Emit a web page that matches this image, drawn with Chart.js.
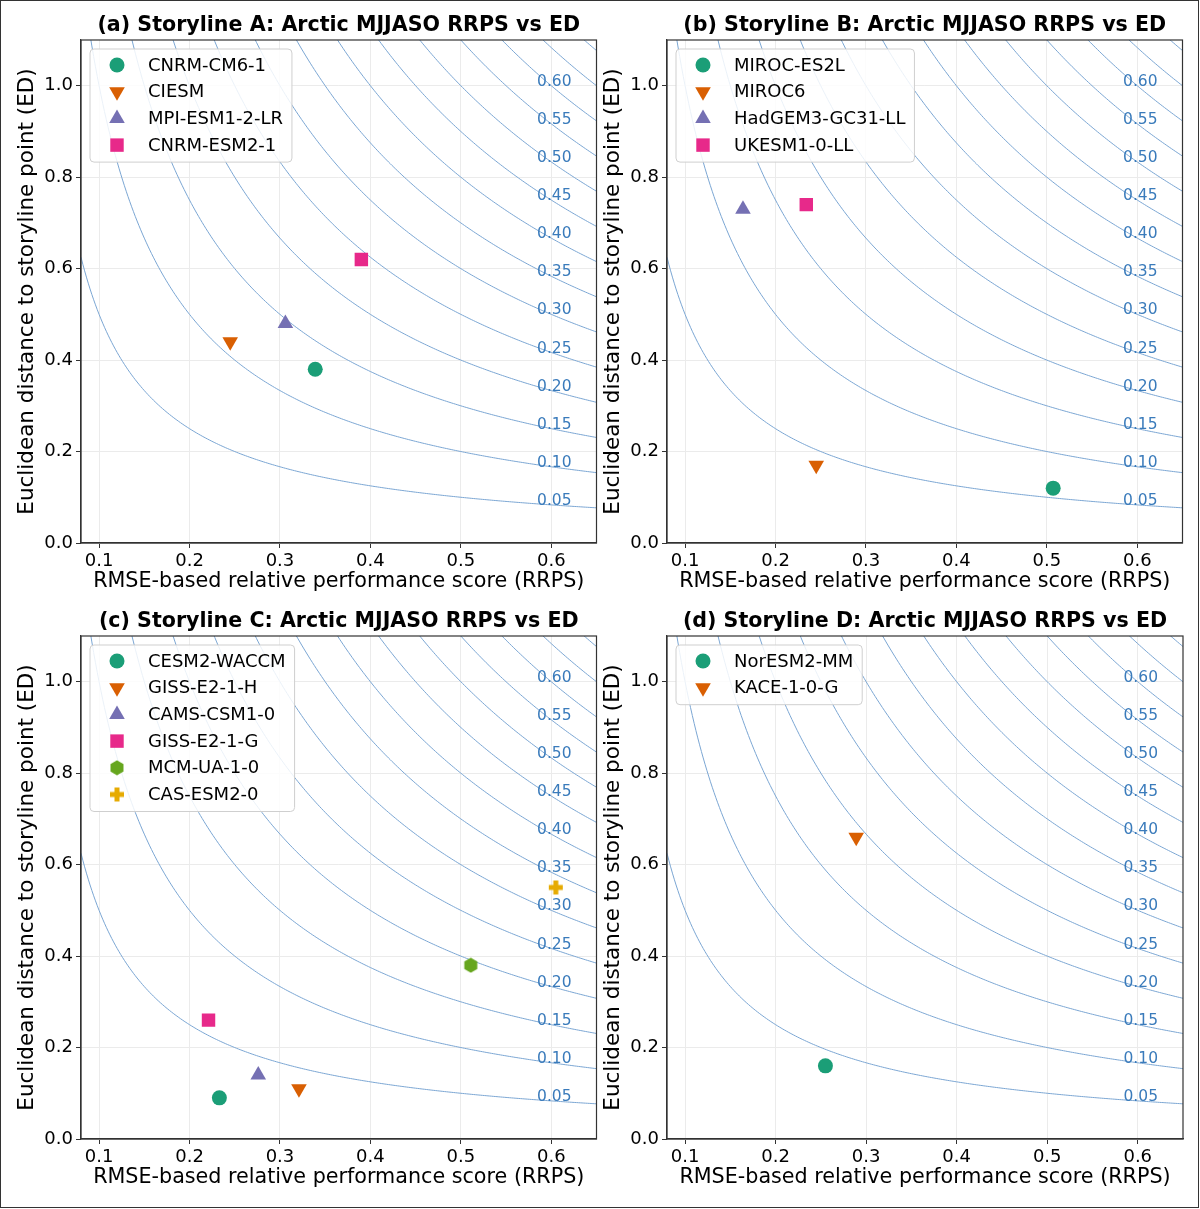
<!DOCTYPE html>
<html>
<head>
<meta charset="utf-8">
<script src="https://cdn.jsdelivr.net/npm/chart.js@4.4.0/dist/chart.umd.min.js"></script>
<style>
html, body { margin: 0; padding: 0; background: #fff; }
#fig { position: relative; width: 1200px; height: 1209px; overflow: hidden; background: #fff; }
#frame { position: absolute; left: 0; top: 0; width: 1197px; height: 1206px; border: 1px solid #333; }
.panel { position: absolute; width: 606px; height: 600px; }
</style>
</head>
<body>
<div id="fig">
  <div id="frame"></div>
  <div class="panel" style="left:0;top:0"><canvas id="chartA" width="606" height="600"></canvas></div>
  <div class="panel" style="left:586px;top:0"><canvas id="chartB" width="606" height="600"></canvas></div>
  <div class="panel" style="left:0;top:596px"><canvas id="chartC" width="606" height="600"></canvas></div>
  <div class="panel" style="left:586px;top:596px"><canvas id="chartD" width="606" height="600"></canvas></div>
</div>
<script>
// contour levels of RRPS * ED, and the ones that get a label
const contourLevels = [0.05, 0.10, 0.15, 0.20, 0.25, 0.30, 0.35, 0.40, 0.45, 0.50, 0.55, 0.60, 0.65, 0.70];
const labelLevels = [0.05, 0.10, 0.15, 0.20, 0.25, 0.30, 0.35, 0.40, 0.45, 0.50, 0.55, 0.60];
const labelAtX = 0.6;

const xTicks = [0.1, 0.2, 0.3, 0.4, 0.5, 0.6];
const yTicks = [0.0, 0.2, 0.4, 0.6, 0.8, 1.0];

// (a) Storyline A
const modelsA = ["CNRM-CM6-1", "CIESM", "MPI-ESM1-2-LR", "CNRM-ESM2-1"];
const rrpsA = [0.339, 0.245, 0.306, 0.390];
const edA = [0.38, 0.44, 0.48, 0.62];

// (b) Storyline B
const modelsB = ["MIROC-ES2L", "MIROC6", "HadGEM3-GC31-LL", "UKESM1-0-LL"];
const rrpsB = [0.507, 0.245, 0.164, 0.234];
const edB = [0.12, 0.17, 0.73, 0.74];

// (c) Storyline C
const modelsC = ["CESM2-WACCM", "GISS-E2-1-H", "CAMS-CSM1-0", "GISS-E2-1-G", "MCM-UA-1-0", "CAS-ESM2-0"];
const rrpsC = [0.233, 0.321, 0.276, 0.221, 0.511, 0.605];
const edC = [0.09, 0.11, 0.14, 0.26, 0.38, 0.55];

// (d) Storyline D
const modelsD = ["NorESM2-MM", "KACE-1-0-G"];
const rrpsD = [0.255, 0.289];
const edD = [0.16, 0.66];

const colors = ["#1b9e77", "#d95f02", "#7570b3", "#e7298a", "#66a61e", "#e6ab02"];

const FONT = "'DejaVu Sans', sans-serif";

// hexagon and filled plus markers as images
function makeHexagon(color) {
  const c = document.createElement("canvas");
  c.width = 16; c.height = 16;
  const g = c.getContext("2d");
  g.fillStyle = color;
  g.beginPath();
  for (let i = 0; i < 6; i++) {
    const a = Math.PI / 2 + i * Math.PI / 3;
    const px = 8 + 7.5 * Math.cos(a), py = 8 - 7.5 * Math.sin(a);
    if (i === 0) g.moveTo(px, py); else g.lineTo(px, py);
  }
  g.closePath();
  g.fill();
  return c;
}
function makePlus(color) {
  const c = document.createElement("canvas");
  c.width = 16; c.height = 16;
  const g = c.getContext("2d");
  g.fillStyle = color;
  g.fillRect(5.5, 1, 5, 14);
  g.fillRect(1, 5.5, 14, 5);
  return c;
}

const markers = [
  { style: "circle", radius: 7.5, rotation: 0 },
  { style: "triangle", radius: 9, rotation: 180 },
  { style: "triangle", radius: 9, rotation: 0 },
  { style: "rect", radius: 9.5, rotation: 0 },
  { style: makeHexagon(colors[4]), radius: 8, rotation: 0 },
  { style: makePlus(colors[5]), radius: 8, rotation: 0 }
];

function contourData(level) {
  const pts = [];
  for (let x = 0.08; x <= 0.6505; x += 0.002) {
    pts.push({ x: x, y: level / x });
  }
  return pts;
}

const panelPlugin = {
  id: "panelExtras",
  afterDatasetsDraw(chart, args, opts) {
    const ctx = chart.ctx;
    const xs = chart.scales.x, ys = chart.scales.y;
    ctx.save();
    // contour labels
    ctx.font = "15.5px " + FONT;
    ctx.fillStyle = "#3a7bbb";
    ctx.textAlign = "center";
    ctx.textBaseline = "middle";
    labelLevels.forEach(l => {
      ctx.fillText(l.toFixed(2), xs.getPixelForValue(labelAtX) + 3, ys.getPixelForValue(l / labelAtX) - 4);
    });
    ctx.restore();
  },
  afterDraw(chart, args, opts) {
    const ctx = chart.ctx;
    const area = chart.chartArea;
    ctx.save();
    // axes frame
    ctx.strokeStyle = "#333";
    ctx.lineWidth = 1.2;
    ctx.strokeRect(area.left, area.top, area.right - area.left, area.bottom - area.top);
    // title
    ctx.font = "bold 20.6px " + FONT;
    ctx.fillStyle = "#000";
    ctx.textAlign = "center";
    ctx.textBaseline = "middle";
    ctx.fillText(opts.title, (area.left + area.right) / 2, 26);
    // legend
    const names = opts.names;
    ctx.font = "18px " + FONT;
    let maxW = 0;
    names.forEach(n => { maxW = Math.max(maxW, ctx.measureText(n).width); });
    const bx = area.left + 9, by = area.top + 9;
    const rowH = 26.7;
    const bw = 58 + maxW + 9;
    const bh = 16 + rowH * (names.length - 1) + 17;
    ctx.beginPath();
    ctx.roundRect(bx, by, bw, bh, 4);
    ctx.fillStyle = "rgba(255,255,255,0.85)";
    ctx.fill();
    ctx.strokeStyle = "#cfcfcf";
    ctx.lineWidth = 1;
    ctx.stroke();
    names.forEach((n, i) => {
      const cy = by + 16 + i * rowH;
      const m = markers[i];
      ctx.fillStyle = colors[i];
      ctx.strokeStyle = colors[i];
      Chart.helpers.drawPoint(ctx, { pointStyle: m.style, rotation: m.rotation, radius: m.radius, borderWidth: 0 }, bx + 27, cy);
      ctx.fillStyle = "#000";
      ctx.textAlign = "left";
      ctx.fillText(n, bx + 58, cy + 1);
    });
    ctx.restore();
  }
};

function makePanel(id, title, names, rrps, ed) {
  const datasets = [];
  names.forEach((n, i) => {
    datasets.push({
      label: n,
      data: [{ x: rrps[i], y: ed[i] }],
      backgroundColor: colors[i],
      borderColor: colors[i],
      borderWidth: 0,
      pointStyle: markers[i].style,
      pointRadius: markers[i].radius,
      pointRotation: markers[i].rotation,
      pointHoverRadius: markers[i].radius,
      order: 0
    });
  });
  contourLevels.forEach(l => {
    datasets.push({
      label: "c" + l,
      data: contourData(l),
      showLine: true,
      borderColor: "#7ba6d3",
      borderWidth: 1,
      pointRadius: 0,
      tension: 0,
      order: 1
    });
  });

  new Chart(document.getElementById(id), {
    type: "scatter",
    data: { datasets: datasets },
    options: {
      responsive: false,
      animation: false,
      devicePixelRatio: 1,
      layout: { padding: { left: 0, right: 0, top: 40, bottom: 0 } },
      plugins: {
        legend: { display: false },
        tooltip: { enabled: false },
        panelExtras: { title: title, names: names }
      },
      scales: {
        x: {
          type: "linear",
          min: 0.08,
          max: 0.65,
          afterBuildTicks: s => { s.ticks = xTicks.map(v => ({ value: v })); },
          afterFit: s => { s.height = 57; s.paddingLeft = 0; s.paddingRight = 0; },
          ticks: {
            autoSkip: false,
            maxRotation: 0,
            padding: 3,
            color: "#000",
            font: { family: FONT, size: 18 },
            callback: v => v.toFixed(1)
          },
          grid: { color: "#ebebeb", lineWidth: 1, tickColor: "#333", tickLength: 5, drawTicks: true },
          border: { color: "#333", width: 1.2 },
          title: {
            display: true,
            text: "RMSE-based relative performance score (RRPS)",
            color: "#000",
            font: { family: FONT, size: 20.7 },
            padding: { top: 0, bottom: 6 }
          }
        },
        y: {
          type: "linear",
          min: 0,
          max: 1.1,
          afterBuildTicks: s => { s.ticks = yTicks.map(v => ({ value: v })); },
          afterFit: s => { s.width = 81; s.paddingTop = 0; s.paddingBottom = 0; },
          ticks: {
            autoSkip: false,
            padding: 3,
            color: "#000",
            font: { family: FONT, size: 18 },
            callback: v => v.toFixed(1)
          },
          grid: { color: "#ebebeb", lineWidth: 1, tickColor: "#333", tickLength: 5, drawTicks: true },
          border: { color: "#333", width: 1.2 },
          title: {
            display: true,
            text: "Euclidean distance to storyline point (ED)",
            color: "#000",
            font: { family: FONT, size: 21.5 },
            padding: { top: 15, bottom: 0 }
          }
        }
      }
    },
    plugins: [panelPlugin]
  });
}

makePanel("chartA", "(a) Storyline A: Arctic MJJASO RRPS vs ED", modelsA, rrpsA, edA);
makePanel("chartB", "(b) Storyline B: Arctic MJJASO RRPS vs ED", modelsB, rrpsB, edB);
makePanel("chartC", "(c) Storyline C: Arctic MJJASO RRPS vs ED", modelsC, rrpsC, edC);
makePanel("chartD", "(d) Storyline D: Arctic MJJASO RRPS vs ED", modelsD, rrpsD, edD);
</script>
</body>
</html>
